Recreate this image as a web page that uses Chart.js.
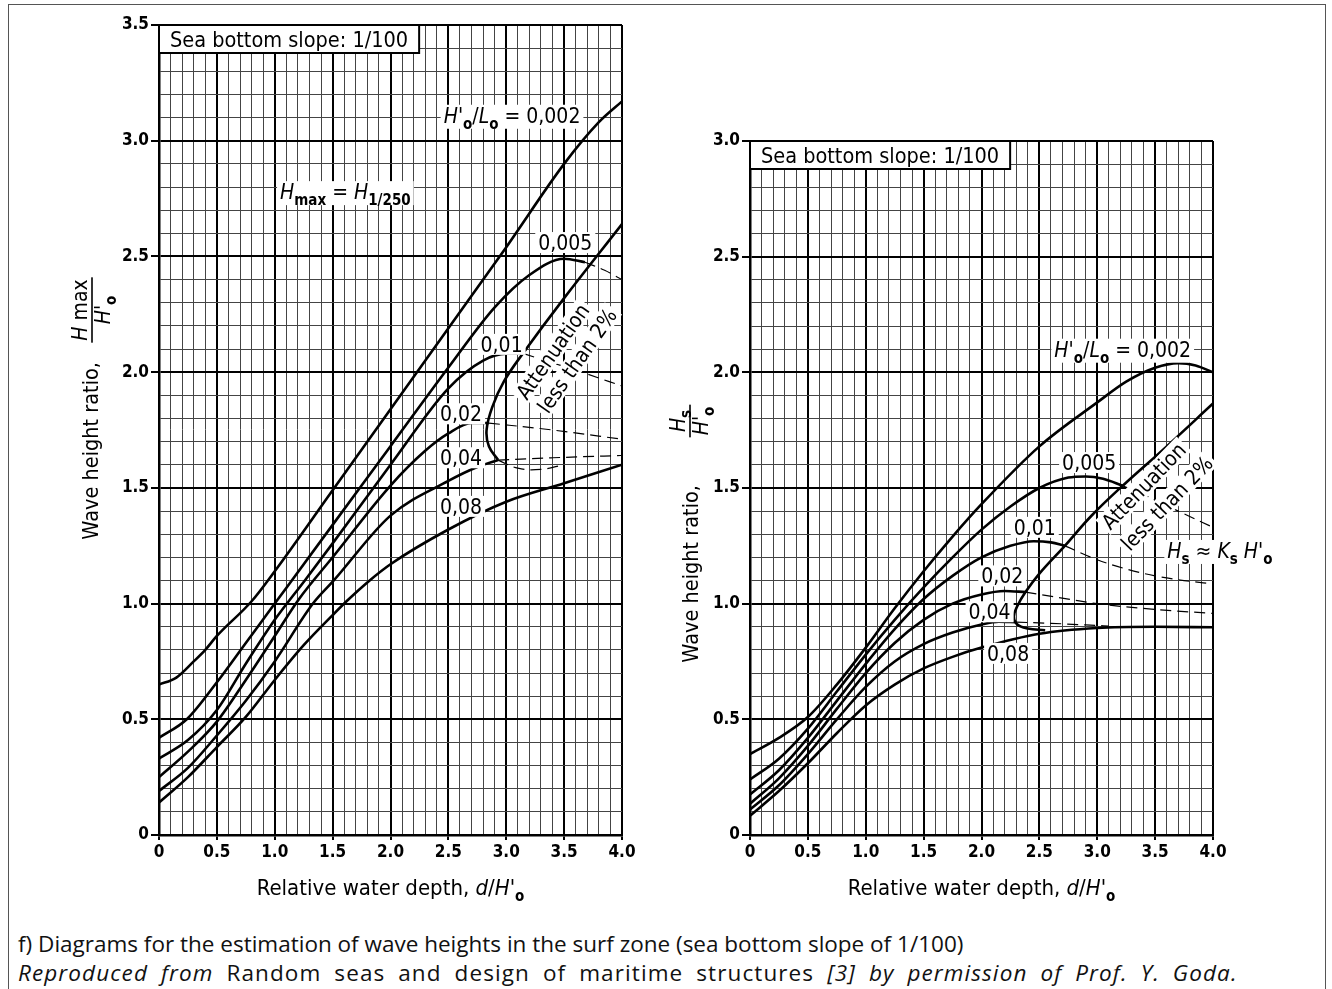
<!DOCTYPE html>
<html>
<head>
<meta charset="utf-8">
<title>Wave heights in the surf zone</title>
<script src="https://cdn.jsdelivr.net/npm/chart.js@4.4.1/dist/chart.umd.min.js"></script>
<style>
  html, body { margin: 0; padding: 0; background: #fff; }
  #page { position: relative; width: 1332px; height: 989px; overflow: hidden; }
  #frame { position: absolute; left: 8px; top: 4px; width: 1318px; height: 1000px; border: 1px solid #555; box-sizing: border-box; }
  #c1 { position: absolute; left: 0; top: 0; }
  #c2 { position: absolute; left: 660px; top: 0; }
  #caption { position: absolute; left: 18px; top: 929px; font-family: "Open Sans", sans-serif; font-size: 22.5px; line-height: 29px; color: #111; white-space: nowrap; }
  #caption .l2 { letter-spacing: 1.1px; word-spacing: 6px; }
</style>
</head>
<body>
<div id="page">
  <div id="frame"></div>
  <canvas id="c1" width="660" height="905"></canvas>
  <canvas id="c2" width="672" height="905"></canvas>
  <div id="caption">
    <div>f) Diagrams for the estimation of wave heights in the surf zone (sea bottom slope of 1/100)</div>
    <div class="l2"><i>Reproduced from</i> Random seas and design of maritime structures <i>[3] by permission of Prof. Y. Goda.</i></div>
  </div>
</div>
<script>
// ---- left diagram: H max / H'o against relative depth d/H'o
const maxD002 = [0, 0.15, 0.3, 0.4, 0.5, 0.8, 1.0, 1.5, 2.0, 2.5, 3.0, 3.5, 3.8, 4.0];
const maxH002 = [0.65, 0.68, 0.75, 0.80, 0.86, 1.01, 1.14, 1.49, 1.84, 2.19, 2.54, 2.90, 3.08, 3.17];
const maxD005 = [0, 0.24, 0.5, 0.75, 1.0, 1.5, 2.0, 2.5, 2.9, 3.2, 3.5, 3.68];
const maxH005 = [0.42, 0.50, 0.66, 0.83, 1.0, 1.34, 1.68, 2.02, 2.28, 2.42, 2.49, 2.475];
const maxD01 = [0, 0.25, 0.5, 0.75, 1.0, 1.26, 1.5, 2.0, 2.5, 2.8, 3.0, 3.15];
const maxH01 = [0.33, 0.41, 0.54, 0.74, 0.93, 1.10, 1.26, 1.60, 1.93, 2.05, 2.08, 2.08];
const maxD02 = [0, 0.25, 0.5, 0.75, 1.0, 1.21, 1.5, 2.0, 2.3, 2.5, 2.7, 2.85];
const maxH02 = [0.25, 0.36, 0.49, 0.67, 0.86, 1.02, 1.20, 1.51, 1.66, 1.735, 1.78, 1.78];
const maxD04 = [0, 0.25, 0.5, 0.75, 1.0, 1.33, 1.51, 2.0, 2.5, 2.75, 2.93];
const maxH04 = [0.19, 0.29, 0.43, 0.58, 0.75, 1.0, 1.10, 1.38, 1.53, 1.59, 1.62];
const maxD08 = [0, 0.25, 0.5, 0.75, 1.0, 1.25, 1.5, 1.62, 1.82, 2.0, 2.5, 3.0, 3.5, 4.0];
const maxH08 = [0.14, 0.25, 0.38, 0.51, 0.67, 0.82, 0.95, 1.01, 1.10, 1.17, 1.32, 1.44, 1.52, 1.60];
// dashed continuations beyond the attenuation line
const maxDashD005 = [3.68, 3.85, 4.0];
const maxDashH005 = [2.475, 2.44, 2.40];
const maxDashD01 = [3.15, 3.4, 3.65, 4.0];
const maxDashH01 = [2.08, 2.04, 2.0, 1.94];
const maxDashD02 = [2.85, 3.4, 4.0];
const maxDashH02 = [1.78, 1.75, 1.71];
const maxDashD04 = [2.93, 3.4, 4.0];
const maxDashH04 = [1.62, 1.63, 1.64];
// "attenuation less than 2%" boundary
const maxAttD = [4.0, 3.5, 3.15, 2.98, 2.88, 2.83, 2.85, 2.93];
const maxAttH = [2.64, 2.32, 2.085, 1.96, 1.85, 1.75, 1.68, 1.62];
const maxAttDashD = [2.93, 3.1, 3.3, 3.5];
const maxAttDashH = [1.62, 1.585, 1.58, 1.60];

// ---- right diagram: Hs / H'o against relative depth d/H'o
const sigD002 = [0, 0.25, 0.5, 0.75, 1.0, 1.25, 1.5, 1.75, 2.0, 2.5, 3.0, 3.25, 3.5, 3.7, 3.85, 4.0];
const sigH002 = [0.35, 0.42, 0.51, 0.65, 0.81, 0.98, 1.14, 1.29, 1.43, 1.68, 1.87, 1.96, 2.02, 2.04, 2.03, 2.0];
const sigD005 = [0, 0.25, 0.5, 0.75, 1.0, 1.25, 1.5, 1.75, 2.0, 2.25, 2.5, 2.75, 2.9, 3.05, 3.22];
const sigH005 = [0.24, 0.33, 0.46, 0.62, 0.78, 0.93, 1.07, 1.20, 1.32, 1.42, 1.50, 1.545, 1.55, 1.54, 1.51];
const sigD01 = [0, 0.25, 0.5, 0.75, 1.0, 1.25, 1.5, 1.75, 2.0, 2.25, 2.45, 2.6, 2.72];
const sigH01 = [0.175, 0.28, 0.42, 0.58, 0.74, 0.89, 1.02, 1.12, 1.20, 1.25, 1.27, 1.265, 1.25];
const sigD02 = [0, 0.25, 0.5, 0.75, 1.0, 1.25, 1.5, 1.75, 2.0, 2.2, 2.38];
const sigH02 = [0.135, 0.245, 0.385, 0.545, 0.70, 0.83, 0.93, 1.0, 1.04, 1.055, 1.05];
const sigD04 = [0, 0.25, 0.5, 0.75, 1.0, 1.25, 1.5, 1.75, 2.0, 2.15, 2.3];
const sigH04 = [0.11, 0.215, 0.35, 0.50, 0.64, 0.75, 0.825, 0.875, 0.91, 0.922, 0.92];
const sigD08 = [0, 0.25, 0.5, 0.75, 1.0, 1.25, 1.5, 1.75, 2.0, 2.5, 3.0, 3.5, 4.0];
const sigH08 = [0.083, 0.19, 0.31, 0.44, 0.56, 0.65, 0.72, 0.77, 0.81, 0.87, 0.895, 0.90, 0.898];
const sigDashD005 = [3.22, 3.45, 3.7, 4.0];
const sigDashH005 = [1.51, 1.46, 1.40, 1.33];
const sigDashD01 = [2.72, 3.0, 3.25, 3.5, 3.75, 4.0];
const sigDashH01 = [1.25, 1.19, 1.15, 1.12, 1.10, 1.085];
const sigDashD02 = [2.38, 2.75, 3.0, 3.5, 4.0];
const sigDashH02 = [1.05, 1.02, 1.0, 0.975, 0.958];
const sigDashD04 = [2.3, 2.6, 2.9, 3.1];
const sigDashH04 = [0.92, 0.915, 0.908, 0.903];
const sigAttD = [4.0, 3.6, 3.22, 2.95, 2.72, 2.5, 2.38, 2.31, 2.28, 2.31, 2.4, 2.55];
const sigAttH = [1.865, 1.68, 1.51, 1.38, 1.25, 1.13, 1.05, 0.99, 0.945, 0.91, 0.893, 0.885];

const FONT = '"DejaVu Sans Condensed", "DejaVu Sans", sans-serif';
const TICKFONT = '"Liberation Sans Narrow", "DejaVu Sans Condensed", sans-serif';
const SLOPE = 'Sea bottom slope: 1/100';

// rich text: [text, style] with i = italic, b = bold, s = subscript
const HOLO = [["H'", 'i'], ['o', 'bs'], ['/', ''], ['L', 'i'], ['o', 'bs'], [' = 0,002', '']];
const HMAX = [['H', 'i'], ['max', 'bs'], [' = ', ''], ['H', 'i'], ['1/250', 'bs']];
const HSKS = [['H', 'i'], ['s', 'bs'], [' \u2248 ', ''], ['K', 'i'], ['s', 'bs'], [" H'", 'i'], ['o', 'bs']];
const XTITLE = [['Relative water depth, ', ''], ['d', 'i'], ['/', ''], ["H'", 'i'], ['o', 'bs']];
const HO = [["H'", 'i'], ['o', 'bs']];

function fontStr(st, size) {
  return (st.includes('i') ? 'italic ' : '') + (st.includes('b') ? 'bold ' : '') + size + 'px ' + FONT;
}
function segSize(st, size) { return st.includes('s') ? Math.round(size * 0.7) : size; }
function richWidth(ctx, segs, size) {
  let w = 0;
  for (const [t, st] of segs) { ctx.font = fontStr(st, segSize(st, size)); w += ctx.measureText(t).width; }
  return w;
}
function drawRich(ctx, segs, x, y, size) {
  ctx.textAlign = 'left';
  ctx.textBaseline = 'alphabetic';
  for (const [t, st] of segs) {
    ctx.font = fontStr(st, segSize(st, size));
    ctx.fillText(t, x, y + (st.includes('s') ? size * 0.28 : 0));
    x += ctx.measureText(t).width;
  }
}
function label(ctx, segs, cx, cy, angle) {
  const size = 21;
  const sub = segs.some(s => s[1].includes('s'));
  ctx.save();
  ctx.translate(cx, cy);
  ctx.rotate(angle * Math.PI / 180);
  const w = richWidth(ctx, segs, size);
  ctx.fillStyle = '#fff';
  ctx.fillRect(-w / 2 - 3, -size * 0.5, w + 6, size + (sub ? 3 : 0));
  ctx.fillStyle = '#000';
  drawRich(ctx, segs, -w / 2, size * 0.36, size);
  ctx.restore();
}

function pts(xs, ys) { return xs.map((x, i) => ({ x: x, y: ys[i] })); }
function solid(xs, ys, loop) {
  return { data: pts(xs, ys), showLine: true, borderColor: '#000', borderWidth: 2.6, pointRadius: 0,
           cubicInterpolationMode: loop ? 'default' : 'monotone', tension: loop ? 0.4 : 0 };
}
function dashed(xs, ys, loop) {
  return { data: pts(xs, ys), showLine: true, borderColor: '#000', borderWidth: 1.2, borderDash: [11, 6], pointRadius: 0,
           cubicInterpolationMode: loop ? 'default' : 'monotone', tension: loop ? 0.4 : 0 };
}

function isMajor(v) { return Math.round(v * 10) % 5 === 0; }
function axis(max, size, tickLen) {
  return {
    type: 'linear', min: 0, max: max,
    afterBuildTicks: s => {
      s.ticks = [];
      for (let i = 0; i <= Math.round(max * 10); i++) s.ticks.push({ value: i / 10 });
    },
    afterFit: s => { if (s.isHorizontal()) s.height = size; else s.width = size; },
    ticks: {
      autoSkip: false, maxRotation: 0, padding: 2, color: '#000',
      font: { family: TICKFONT, size: 17, weight: 'bold' },
      callback: v => isMajor(v) ? (Math.round(v * 10) === 0 ? '0' : v.toFixed(1)) : ''
    },
    grid: {
      color: c => c.tick && isMajor(c.tick.value) ? '#000' : '#444',
      lineWidth: c => c.tick && isMajor(c.tick.value) ? 2 : 1,
      tickLength: tickLen,
      tickColor: c => c.tick && isMajor(c.tick.value) ? '#000' : 'rgba(0,0,0,0)'
    },
    border: { display: true, color: '#000', width: 2.5 }
  };
}

function yTitle(ctx, endY, baseX, fx, fy, num) {
  ctx.save();
  ctx.fillStyle = '#000';
  ctx.font = '21.5px ' + FONT;
  ctx.textAlign = 'left';
  ctx.textBaseline = 'alphabetic';
  const w = ctx.measureText('Wave height ratio,').width;
  ctx.translate(baseX, endY + w);
  ctx.rotate(-Math.PI / 2);
  ctx.fillText('Wave height ratio,', 0, 0);
  ctx.restore();
  ctx.save();
  ctx.fillStyle = '#000';
  ctx.translate(fx, fy);
  ctx.rotate(-Math.PI / 2);
  const nw = richWidth(ctx, num, 21), dw = richWidth(ctx, HO, 21);
  const bw = Math.max(nw, dw) + 4;
  drawRich(ctx, num, -nw / 2, -5, 21);
  ctx.fillRect(-bw / 2, -0.8, bw, 1.6);
  drawRich(ctx, HO, -dw / 2, 18, 21);
  ctx.restore();
}

function decor(cfg) {
  return {
    id: 'decor',
    afterDatasetsDraw(chart) {
      const ctx = chart.ctx, a = chart.chartArea, sx = chart.scales.x, sy = chart.scales.y;
      ctx.save();
      ctx.font = '21.5px ' + FONT;
      const bw = ctx.measureText(SLOPE).width + 22;
      ctx.fillStyle = '#fff';
      ctx.fillRect(a.left, a.top, bw, 28);
      ctx.strokeStyle = '#000';
      ctx.lineWidth = 2;
      ctx.strokeRect(a.left, a.top, bw, 28);
      ctx.fillStyle = '#000';
      ctx.textAlign = 'left';
      ctx.textBaseline = 'alphabetic';
      ctx.fillText(SLOPE, a.left + 11, a.top + 22);
      for (const L of cfg.labels) {
        label(ctx, L.segs, sx.getPixelForValue(L.x), sy.getPixelForValue(L.y), L.angle || 0);
      }
      const tw = richWidth(ctx, XTITLE, 22);
      ctx.fillStyle = '#000';
      drawRich(ctx, XTITLE, (a.left + a.right) / 2 - tw / 2, 895, 22);
      yTitle(ctx, cfg.yEnd, cfg.yBase, cfg.fracX, cfg.fracY, cfg.num);
      ctx.restore();
    }
  };
}

function makeChart(id, cfg) {
  return new Chart(document.getElementById(id), {
    type: 'scatter',
    data: { datasets: cfg.datasets },
    options: {
      responsive: false, animation: false, devicePixelRatio: 1, events: [],
      layout: { padding: cfg.padding },
      plugins: { legend: { display: false }, tooltip: { enabled: false } },
      scales: { x: axis(4, 70, 5), y: axis(cfg.yMax, cfg.yWidth, 8) }
    },
    plugins: [decor(cfg)]
  });
}

makeChart('c1', {
  yMax: 3.5, yWidth: 159, padding: { top: 25, right: 38, left: 0, bottom: 0 },
  yEnd: 362, yBase: 98, fracX: 92, fracY: 310,
  num: [['H', 'i'], [' max', '']],
  datasets: [
    solid(maxD002, maxH002), solid(maxD005, maxH005), solid(maxD01, maxH01),
    solid(maxD02, maxH02), solid(maxD04, maxH04), solid(maxD08, maxH08),
    dashed(maxDashD005, maxDashH005), dashed(maxDashD01, maxDashH01),
    dashed(maxDashD02, maxDashH02), dashed(maxDashD04, maxDashH04),
    solid(maxAttD, maxAttH, true), dashed(maxAttDashD, maxAttDashH, true)
  ],
  labels: [
    { segs: HOLO, x: 3.05, y: 3.11 },
    { segs: HMAX, x: 1.61, y: 2.78 },
    { segs: [['0,005', '']], x: 3.51, y: 2.56 },
    { segs: [['0,01', '']], x: 2.96, y: 2.12 },
    { segs: [['0,02', '']], x: 2.61, y: 1.82 },
    { segs: [['0,04', '']], x: 2.61, y: 1.63 },
    { segs: [['0,08', '']], x: 2.61, y: 1.42 },
    { segs: [['Attenuation', '']], x: 3.40, y: 2.09, angle: -55 },
    { segs: [['less than 2%', '']], x: 3.61, y: 2.05, angle: -55 }
  ]
});

makeChart('c2', {
  yMax: 3.0, yWidth: 90, padding: { top: 141, right: 119, left: 0, bottom: 0 },
  yEnd: 485, yBase: 38, fracX: 30, fracY: 421,
  num: [['H', 'i'], ['s', 'bs']],
  datasets: [
    solid(sigD002, sigH002), solid(sigD005, sigH005), solid(sigD01, sigH01),
    solid(sigD02, sigH02), solid(sigD04, sigH04), solid(sigD08, sigH08),
    dashed(sigDashD005, sigDashH005), dashed(sigDashD01, sigDashH01),
    dashed(sigDashD02, sigDashH02), dashed(sigDashD04, sigDashH04),
    solid(sigAttD, sigAttH, true)
  ],
  labels: [
    { segs: HOLO, x: 3.22, y: 2.10 },
    { segs: [['0,005', '']], x: 2.93, y: 1.61 },
    { segs: [['0,01', '']], x: 2.46, y: 1.33 },
    { segs: [['0,02', '']], x: 2.18, y: 1.12 },
    { segs: [['0,04', '']], x: 2.07, y: 0.965 },
    { segs: [['0,08', '']], x: 2.23, y: 0.785 },
    { segs: [['Attenuation', '']], x: 3.40, y: 1.51, angle: -46 },
    { segs: [['less than 2%', '']], x: 3.60, y: 1.435, angle: -46 },
    { segs: HSKS, x: 4.06, y: 1.23 }
  ]
});
</script>
</body>
</html>
